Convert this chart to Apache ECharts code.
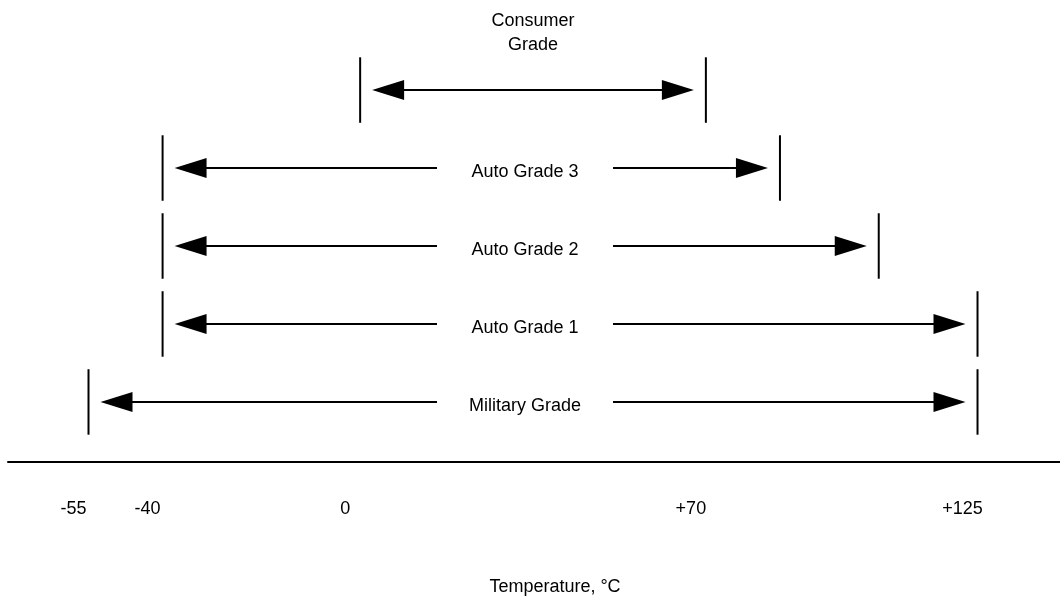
<!DOCTYPE html>
<html>
<head>
<meta charset="utf-8">
<script src="https://cdn.jsdelivr.net/npm/echarts@6/dist/echarts.min.js"></script>
<style>
  html, body { margin: 0; background: #fff; }
  #main { width: 1060px; height: 600px; }
</style>
</head>
<body>
<div id="main"></div>
<script>
// grades from bottom row to top row
const grades = ['Military Grade', 'Auto Grade 1', 'Auto Grade 2', 'Auto Grade 3', 'Consumer Grade']
const minTemps = [-55, -40, -40, -40, 0]
const maxTemps = [125, 125, 105, 85, 70]
const tickTemps = [-55, -40, 0, 70, 125]

const font = '"Liberation Sans", Arial, sans-serif'
const fontSize = 18

let mycharts = echarts.init(document.getElementById('main'))

// one row: two end bars, arrow(s) and the grade name
function renderRange (params, api) {
  let i = params.dataIndex
  let lo = api.coord([api.value(1), api.value(0)])
  let hi = api.coord([api.value(2), api.value(0)])
  let y = lo[1]
  let barH = api.size([0, 0.42])[1]
  let inset = 12
  let headL = 32
  let headW = 10
  let black = { stroke: '#000', lineWidth: 2 }
  let tipL = lo[0] + inset
  let tipR = hi[0] - inset
  let kids = [
    { type: 'line', shape: { x1: lo[0], y1: y - barH, x2: lo[0], y2: y + barH }, style: black },
    { type: 'line', shape: { x1: hi[0], y1: y - barH, x2: hi[0], y2: y + barH }, style: black },
    { type: 'polygon', shape: { points: [[tipL, y], [tipL + headL, y - headW], [tipL + headL, y + headW]] }, style: { fill: '#000' } },
    { type: 'polygon', shape: { points: [[tipR, y], [tipR - headL, y - headW], [tipR - headL, y + headW]] }, style: { fill: '#000' } }
  ]
  let textStyle = {
    fill: '#000',
    font: fontSize + 'px ' + font,
    align: 'center',
    textAlign: 'center'
  }
  if (i === grades.length - 1) {
    // top row: label sits above one long double arrow
    kids.push({ type: 'line', shape: { x1: tipL + headL - 2, y1: y, x2: tipR - headL + 2, y2: y }, style: black })
    kids.push({
      type: 'text',
      style: Object.assign({}, textStyle, {
        text: grades[i].replace(' ', '\n'),
        x: (lo[0] + hi[0]) / 2,
        y: y - 33,
        lineHeight: 24,
        verticalAlign: 'bottom',
        textVerticalAlign: 'bottom'
      })
    })
  } else {
    let cx = api.getWidth() / 2 - 5
    let gap = 88
    kids.push({ type: 'line', shape: { x1: tipL + headL - 2, y1: y, x2: cx - gap, y2: y }, style: black })
    kids.push({ type: 'line', shape: { x1: cx + gap, y1: y, x2: tipR - headL + 2, y2: y }, style: black })
    kids.push({
      type: 'text',
      style: Object.assign({}, textStyle, {
        text: grades[i],
        x: cx,
        y: y + 4,
        verticalAlign: 'middle',
        textVerticalAlign: 'middle'
      })
    })
  }
  return { type: 'group', children: kids }
}

mycharts.setOption({
  animation: false,
  backgroundColor: '#fff',
  grid: {
    left: 8,
    right: 0,
    top: 30,
    bottom: 138,
    outerBoundsMode: 'none'
  },
  xAxis: {
    type: 'value',
    min: -71.3,
    max: 141.7,
    splitLine: { show: false },
    axisLine: { onZero: false, lineStyle: { color: '#000', width: 2 } },
    axisTick: { show: false },
    axisLabel: {
      customValues: tickTemps,
      margin: 38,
      color: '#000',
      fontSize: fontSize,
      fontFamily: font,
      padding: [0, 30, 0, 0],
      formatter: function (v) {
        return v > 0 ? '+' + v : String(v)
      }
    },
    name: 'Temperature, °C',
    nameLocation: 'middle',
    nameGap: 116,
    nameTextStyle: {
      color: '#000',
      fontSize: fontSize,
      fontFamily: font,
      padding: [0, 0, 0, 42]
    }
  },
  yAxis: {
    type: 'value',
    min: -0.77,
    max: 4.77,
    show: false
  },
  series: [
    {
      type: 'custom',
      renderItem: renderRange,
      clip: false,
      encode: { x: [1, 2], y: 0 },
      data: grades.map((g, i) => [i, minTemps[i], maxTemps[i]])
    }
  ]
})
</script>
</body>
</html>
